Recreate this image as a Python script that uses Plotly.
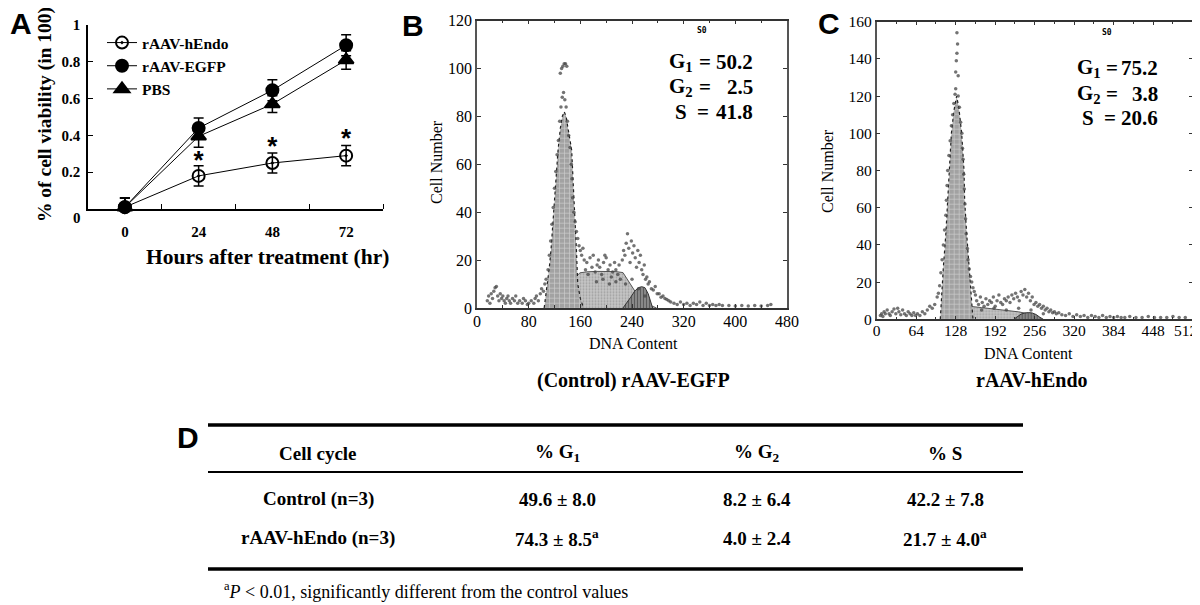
import plotly.graph_objects as go

W, H = 1200, 605
OFF = 8  # the page body adds an 8 px margin in the browser
def px(x): return (x - OFF) / W
def py(y): return 1 - (y - OFF) / H

SERIF = "Liberation Serif"
SANS = "Liberation Sans"

# ---------------- Panel A data ----------------
hours = [0, 24, 48, 72]
hendo = [0.01, 0.18, 0.25, 0.29]
hendo_err = [0.05, 0.055, 0.055, 0.055]
egfp = [0.01, 0.44, 0.645, 0.89]
egfp_err = [0.05, 0.055, 0.057, 0.057]
pbs = [0.01, 0.395, 0.57, 0.81]
pbs_err = [0.05, 0.06, 0.045, 0.05]
star_hours = [24, 48, 72]
star_y = [0.252, 0.327, 0.37]
a_yticks = [0.2, 0.4, 0.6, 0.8, 1.0]
a_yticktext = ["0.2", "0.4", "0.6", "0.8", "1"]

# ---------------- Panel B data (control, rAAV-EGFP) ----------------
b_g1_x = [104, 108, 112, 114.5, 118, 122, 125.5, 129, 132, 135, 138, 141, 144, 146.6, 149, 152, 154, 156, 160, 165]
b_g1_y = [0, 8, 17, 24, 38, 52, 66, 75, 80, 82, 80, 75, 70, 66, 52, 38, 24, 10, 4, 0]
b_s_x = [123, 130, 138, 146, 153, 159.5, 170, 185, 200, 215, 226, 233, 240, 247, 255, 265, 278]
b_s_y = [0, 3, 6.5, 10, 13, 14.7, 15.1, 15.3, 15.3, 15.2, 14.8, 12, 9, 6, 3.5, 1.5, 0]
b_g2_x = [226, 232, 238, 244, 250, 255, 260, 265, 268, 272]
b_g2_y = [0, 2, 4.5, 7, 8.5, 8.9, 8.5, 6, 3, 0]
b_dots = [
    (16, 3), (18, 5), (20, 2), (22, 6), (24, 4), (26, 7), (28, 8.5), (30, 9), (32, 5), (34, 3), (36, 6),
    (38, 4), (40, 5), (42, 3), (44, 2), (46, 4), (48, 5), (50, 3), (52, 2), (55, 4), (58, 3), (60, 5),
    (63, 2), (66, 3), (70, 2), (72, 4), (75, 3), (78, 1.5), (80, 2), (84, 3), (88, 2), (90, 4), (92, 5),
    (95, 3), (98, 6), (100, 8), (103, 7), (105, 10), (107, 12),
    (110, 16), (112, 22), (114, 28), (116, 35), (118, 42), (120, 50), (122, 57), (124, 64), (126, 70),
    (128, 78), (130, 84), (132, 88), (134, 90), (136, 87),
    (129, 98), (131, 100), (133, 101), (135, 102), (137, 102), (139, 101),
    (138, 84), (140, 78), (142, 72), (144, 67), (146, 60), (147, 54), (148, 46), (150, 40), (152, 36),
    (154, 32), (156, 29), (158, 26), (160, 24), (162, 22), (164, 25), (166, 20),
    (168, 16), (170, 19), (172, 14), (175, 21), (178, 17), (180, 22), (183, 15), (186, 18), (188, 20),
    (190, 17), (193, 14), (196, 19), (198, 22), (200, 21), (203, 16), (206, 18), (208, 13), (210, 15),
    (213, 19), (215, 16), (218, 14), (220, 18), (222, 12), (225, 20), (227, 24), (229, 22), (231, 27),
    (233, 31), (235, 25), (237, 19), (239, 28), (241, 23), (243, 26), (245, 21), (247, 17), (249, 24),
    (251, 19), (253, 22), (255, 16), (257, 14), (259, 18), (261, 12), (263, 13), (265, 10), (267, 11),
    (270, 8), (273, 7.5), (276, 9), (279, 6), (282, 6), (285, 4.5), (288, 5), (291, 4), (294, 3.5),
    (297, 3), (300, 2.5),
    (185, 11), (195, 12), (205, 10), (215, 11), (230, 10), (240, 12), (250, 8), (260, 5),
    (305, 2), (310, 1.5), (315, 2.5), (320, 1.5), (325, 2), (330, 1), (335, 2), (340, 1.5), (345, 2.5),
    (350, 1), (355, 2), (360, 1), (365, 1.5), (370, 1), (375, 1.5), (380, 1), (390, 1), (400, 0.8),
    (410, 1), (420, 0.8), (430, 1), (440, 0.8), (450, 1), (455, 1.5),
]

# ---------------- Panel C data (rAAV-hEndo) ----------------
c_g1_x = [103, 104, 108, 112, 115, 116.5, 121, 125, 129.5, 133, 137.7, 141.5, 142.5, 146, 149.6, 153, 155, 156]
c_g1_y = [0, 7, 28, 46, 64, 80, 100, 112, 120, 114, 100, 80, 64, 45, 28, 12, 7, 0]
c_s_x = [118, 125, 132, 140, 148, 156, 170, 185, 200, 215, 230, 245, 255, 263]
c_s_y = [0, 2.5, 5, 6.8, 7, 6.8, 6.3, 5.8, 5.3, 4.8, 4, 3, 1.5, 0]
c_g2_x = [222, 228, 234, 240, 246, 252, 258, 264, 270]
c_g2_y = [0, 1.5, 2.8, 3.4, 3.6, 3.4, 2.6, 1.2, 0]
c_dots = [
    (6, 2), (8, 3), (10, 1.5), (12, 4), (14, 3), (17, 5), (20, 3), (22, 2), (25, 4), (28, 5.5), (31, 3),
    (34, 6), (36, 4), (39, 2.5), (42, 5), (45, 3), (48, 2), (51, 4), (54, 3), (57, 2), (60, 3.5), (63, 2),
    (66, 3), (70, 2), (74, 4), (78, 3), (82, 5), (86, 7), (90, 6), (94, 8), (98, 12), (100, 14),
    (102, 18), (104, 25), (106, 32), (108, 40), (110, 48), (112, 56), (113, 64), (114, 72), (115, 80),
    (117, 88), (119, 96), (121, 104), (123, 110), (125, 116), (127, 121), (128, 124),
    (128, 133), (129, 139), (130, 143), (131, 148), (130, 154), (132, 131),
    (132, 120), (134, 114), (136, 106), (138, 100), (139, 92), (140, 86), (141, 78), (142, 70), (143, 62),
    (144, 54), (145, 46), (147, 38), (148, 32), (150, 27), (152, 23), (154, 20), (156, 17), (158, 15),
    (160, 13),
    (162, 10), (165, 8), (168, 12), (171, 9), (174, 7), (177, 11), (180, 8), (183, 10), (186, 9),
    (189, 12), (192, 7), (195, 10), (198, 13), (201, 9), (204, 8), (207, 11), (210, 10), (213, 12),
    (216, 9), (219, 13), (222, 11), (225, 14), (228, 12), (231, 10), (234, 15), (237, 13), (240, 16),
    (243, 12), (246, 14), (249, 10), (252, 12), (255, 8), (258, 9), (261, 7), (264, 8), (267, 6),
    (270, 7), (273, 5), (276, 6), (279, 4), (282, 5), (285, 3.5), (288, 4), (291, 3), (295, 3.5),
    (170, 5), (190, 6), (210, 5), (230, 6), (250, 5), (270, 3),
    (300, 2.5), (306, 2), (312, 3), (318, 1.5), (324, 2.5), (330, 1.5), (336, 2), (342, 1), (348, 2),
    (354, 1.5), (360, 1), (366, 2), (372, 1), (378, 1.5), (384, 1), (390, 1.5), (396, 1), (402, 1),
    (410, 1.5), (420, 1), (430, 1), (440, 1.5), (450, 1), (460, 1), (470, 1), (480, 1.5), (490, 1),
    (500, 1),
]
c_xticks = [0, 64, 128, 192, 256, 320, 384, 448, 512]

# ---------------- Table D data ----------------
table_header = ["Cell cycle", "% G<sub>1</sub>", "% G<sub>2</sub>", "% S"]
table_rows = [
    ["Control (n=3)", "49.6 ± 8.0", "8.2 ± 6.4", "42.2 ± 7.8"],
    ["rAAV-hEndo (n=3)", "74.3 ± 8.5<sup>a</sup>", "4.0 ± 2.4", "21.7 ± 4.0<sup>a</sup>"],
]
table_note = "<sup>a</sup><i>P</i> &lt; 0.01, significantly different from the control values"

b_stats = [("G<sub>1</sub>", "50.2"), ("G<sub>2</sub>", "2.5"), ("S", "41.8")]
c_stats = [("G<sub>1</sub>", "75.2"), ("G<sub>2</sub>", "3.8"), ("S", "20.6")]

fig = go.Figure()

# ---- Panel A traces ----
def a_trace(name, y, err, symbol, size):
    return go.Scatter(
        x=hours, y=y, name=name, mode="lines+markers",
        line=dict(color="black", width=1),
        marker=dict(symbol=symbol, size=size, color="black", line=dict(color="black", width=2)),
        error_y=dict(type="data", array=err, color="black", thickness=1.5, width=5),
        cliponaxis=False, xaxis="x", yaxis="y",
    )

fig.add_trace(a_trace("rAAV-hEndo", hendo, hendo_err, "circle-open-dot", 12))
fig.add_trace(a_trace("rAAV-EGFP", egfp, egfp_err, "circle", 12))
fig.add_trace(a_trace("PBS", pbs, pbs_err, "triangle-up", 13))
fig.add_trace(go.Scatter(
    x=star_hours, y=star_y, mode="text", text=["*"] * len(star_hours),
    textfont=dict(family=SANS, size=26, color="black", weight="bold"),
    showlegend=False, cliponaxis=False, xaxis="x", yaxis="y", hoverinfo="skip"))

# ---- Histogram traces ----
def hist_traces(xa, ya, g1x, g1y, sx, sy, g2x, g2y, dots):
    out = []
    out.append(go.Scatter(x=sx, y=sy, mode="lines", fill="toself",
                          line=dict(color="#555", width=1),
                          fillpattern=dict(shape=".", bgcolor="#c6c6c6", fgcolor="#7a7a7a", size=3, solidity=0.35),
                          showlegend=False, xaxis=xa, yaxis=ya, hoverinfo="skip"))
    out.append(go.Scatter(x=g2x, y=g2y, mode="lines", fill="toself",
                          line=dict(color="#333", width=1),
                          fillpattern=dict(shape="|", bgcolor="#8c8c8c", fgcolor="#2a2a2a", size=3, solidity=0.4),
                          showlegend=False, xaxis=xa, yaxis=ya, hoverinfo="skip"))
    out.append(go.Scatter(x=g1x, y=g1y, mode="lines", fill="toself",
                          line=dict(color="#222", width=1.2, dash="dot"),
                          fillpattern=dict(shape="+", bgcolor="#a2a2a2", fgcolor="#f6f6f6", size=5, solidity=0.25),
                          showlegend=False, xaxis=xa, yaxis=ya, hoverinfo="skip"))
    out.append(go.Scatter(x=[d[0] for d in dots], y=[d[1] for d in dots], mode="markers",
                          marker=dict(size=3.5, color="#444", opacity=0.75),
                          showlegend=False, xaxis=xa, yaxis=ya, hoverinfo="skip"))
    return out

for t in hist_traces("x2", "y2", b_g1_x, b_g1_y, b_s_x, b_s_y, b_g2_x, b_g2_y, b_dots):
    fig.add_trace(t)
for t in hist_traces("x3", "y3", c_g1_x, c_g1_y, c_s_x, c_s_y, c_g2_x, c_g2_y, c_dots):
    fig.add_trace(t)

# ---- Axes ----
bold_tick = dict(family=SERIF, size=15, color="black", weight="bold")
reg_tick = dict(family=SERIF, size=16, color="black")
c_tickfont = dict(family=SERIF, size=15.5, color="black")
# last C label is drawn as an annotation so it stays inside the window
c_ticktext = [str(v) for v in c_xticks[:-1]] + [""]

fig.update_layout(
    width=W, height=H, margin=dict(l=0, r=0, t=0, b=0, pad=0, autoexpand=False),
    paper_bgcolor="white", plot_bgcolor="white",
    xaxis=dict(domain=[px(88), px(383)], range=[-12, 84], anchor="y",
               showline=True, linecolor="black", linewidth=1.5,
               tickvals=hours, ticktext=[str(h) for h in hours], ticks="",
               tickfont=bold_tick, ticklabelstandoff=8,
               minor=dict(tickvals=[12, 36, 60, 84], ticks="inside", ticklen=5, tickwidth=1.2, tickcolor="black"),
               showgrid=False, zeroline=False, automargin=False),
    yaxis=dict(domain=[py(209), py(25)], range=[0, 1], anchor="x",
               showline=True, linecolor="black", linewidth=1.5,
               tickvals=a_yticks, ticktext=a_yticktext, ticks="inside", ticklen=5, tickwidth=1.2,
               tickcolor="black", tickfont=bold_tick, ticklabelstandoff=3,
               showgrid=False, zeroline=False, automargin=False),
    xaxis2=dict(domain=[px(477), px(787)], range=[0, 480], anchor="y2",
                showline=True, mirror="ticks", linecolor="#333", linewidth=1.5,
                ticks="inside", ticklen=4, tickcolor="#333", tick0=0, dtick=80,
                minor=dict(dtick=40, ticks="inside", ticklen=3, tickcolor="#333"),
                tickfont=reg_tick, ticklabelstandoff=-2,
                showgrid=False, zeroline=False, automargin=False),
    yaxis2=dict(domain=[py(308), py(20.7)], range=[0, 120], anchor="x2",
                showline=True, mirror="ticks", linecolor="#555", linewidth=1.5,
                ticks="inside", ticklen=4, tickcolor="#333", tick0=0, dtick=20,
                tickfont=reg_tick, showgrid=False, zeroline=False, automargin=False),
    xaxis3=dict(domain=[px(876.7), px(1192.7)], range=[0, 512], anchor="y3",
                showline=True, mirror="ticks", linecolor="#333", linewidth=1.5,
                ticks="inside", ticklen=4, tickcolor="#333",
                tickvals=c_xticks, ticktext=c_ticktext,
                ticklabeloverflow="allow", ticklabelstandoff=-4,
                minor=dict(dtick=32, ticks="inside", ticklen=3, tickcolor="#333"),
                tickfont=c_tickfont, showgrid=False, zeroline=False, automargin=False),
    yaxis3=dict(domain=[py(319.3), py(21.7)], range=[0, 160], anchor="x3",
                showline=True, mirror="ticks", linecolor="#555", linewidth=1.5,
                ticks="inside", ticklen=4, tickcolor="#333", tick0=0, dtick=20,
                tickfont=c_tickfont, showgrid=False, zeroline=False, automargin=False),
    legend=dict(x=px(102), y=py(26), xanchor="left", yanchor="top", bgcolor="rgba(0,0,0,0)",
                font=dict(family=SERIF, size=15.5, color="black", weight="bold"),
                tracegroupgap=0, itemwidth=30),
)

ann = []
def add_text(text, x, y, size, family=SERIF, weight="normal", xanchor="center", yanchor="middle", angle=0):
    ann.append(dict(text=text, x=px(x), y=py(y), xref="paper", yref="paper", showarrow=False,
                    xanchor=xanchor, yanchor=yanchor, textangle=angle,
                    font=dict(family=family, size=size, color="black", weight=weight)))

# panel letters
add_text("A", 21, 23, 30, SANS, "bold")
add_text("B", 413, 25, 30, SANS, "bold")
add_text("C", 829, 23, 30, SANS, "bold")
add_text("D", 188, 437, 30, SANS, "bold")

# panel A titles
add_text("0", 83, 218, 15, SERIF, "bold", xanchor="right")
add_text("% of cell viability (in 100)", 45, 115, 19.5, SERIF, "bold", angle=-90)
add_text("Hours after treatment (hr)", 267, 257, 21.5, SERIF, "bold")

# panel B titles
add_text("Cell Number", 437, 162, 16, SERIF, angle=-90)
add_text("DNA Content", 633, 343, 16, SERIF)
add_text("(Control) rAAV-EGFP", 633, 380, 20, SERIF, "bold")
add_text("S0", 702, 30, 8, "DejaVu Sans Mono", "bold")
# panel C titles
add_text("Cell Number", 827, 171, 16, SERIF, angle=-90)
add_text("DNA Content", 1028, 353, 16, SERIF)
add_text("rAAV-hEndo", 1032, 380, 20, SERIF, "bold")
add_text("S0", 1107, 33, 8, "DejaVu Sans Mono", "bold")
add_text(str(c_xticks[-1]), 1199, 330, 15.5, SERIF, xanchor="right")

# G1/G2/S stats
for stats, ys, lab_r, eq_c, val_r in [
    (b_stats, [62, 87, 112], [695, 695, 689], [705, 705, 703], 755),
    (c_stats, [68, 94, 118], [1103, 1103, 1096], [1112, 1112, 1110], 1160),
]:
    for (lab, val), yy, lr, ec in zip(stats, ys, lab_r, eq_c):
        add_text(lab, lr, yy, 21, SERIF, "bold", xanchor="right")
        add_text("=", ec, yy, 21, SERIF, "bold")
        add_text(val, val_r, yy, 21, SERIF, "bold", xanchor="right")

# table
col_x = [318, 557, 757, 945]
row_y = [453, 499, 538]
for cx, h in zip(col_x, table_header):
    add_text(h, cx, row_y[0], 19, SERIF, "bold")
for ry, row in zip(row_y[1:], table_rows):
    for cx, cell in zip(col_x, row):
        add_text(cell, cx, ry, 19, SERIF, "bold")
add_text(table_note, 222, 590, 18, SERIF, xanchor="left")

shapes = []
for yy, wdt in [(425, 3.3), (472, 1.8), (569, 3.3)]:
    shapes.append(dict(type="line", xref="paper", yref="paper", x0=px(208), x1=px(1023),
                       y0=py(yy), y1=py(yy), line=dict(color="black", width=wdt)))

fig.update_layout(annotations=ann, shapes=shapes)
fig.write_html("out.html")
